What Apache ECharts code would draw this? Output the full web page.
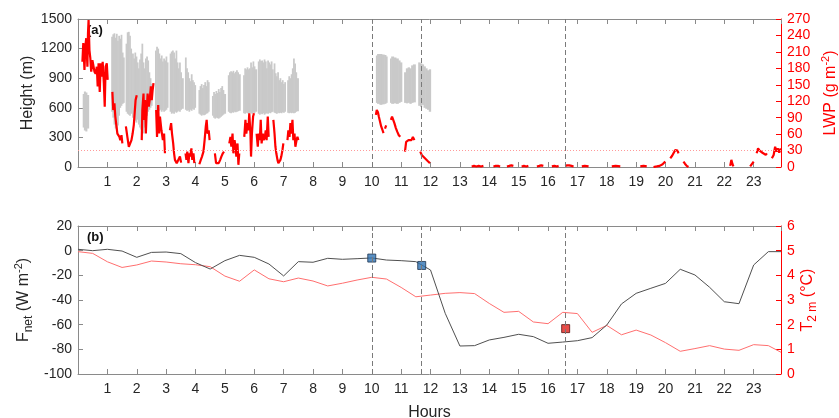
<!DOCTYPE html>
<html>
<head>
<meta charset="utf-8">
<script src="https://cdn.jsdelivr.net/npm/echarts@6/dist/echarts.min.js"></script>
<style>
  html, body { margin: 0; padding: 0; background: #fff; }
  #chart { width: 839px; height: 418px; }
</style>
</head>
<body>
<div id="chart"></div>
<script>
// ---- Panel (a): cloud layers (ceilometer) and liquid water path ----
// Each cloud slice: [start hour, end hour, base height (m), top height (m)]
const cloudSlices = [
  [0.16,0.20,400,740],[0.20,0.25,370,765],[0.25,0.30,360,755],[0.30,0.36,390,730],
  [1.13,1.17,560,1320],[1.17,1.21,500,1345],[1.21,1.25,430,1355],[1.25,1.29,390,1310],[1.29,1.33,380,1350],
  [1.33,1.37,420,1280],[1.37,1.41,520,1330],[1.41,1.45,600,1300],[1.45,1.49,620,1340],[1.49,1.53,640,1160],[1.53,1.57,650,1110],
  [1.62,1.66,560,1250],[1.66,1.70,540,1365],[1.70,1.74,530,1370],[1.74,1.78,520,1330],[1.78,1.82,540,1200],
  [1.84,1.88,500,1150],[1.88,1.92,520,1100],[1.92,1.96,470,1160],[1.96,2.00,450,1120],[2.00,2.04,480,1060],
  [2.04,2.08,430,1000],[2.08,2.12,400,1090],[2.12,2.16,380,1150],[2.16,2.20,360,1250],[2.20,2.24,340,1060],
  [2.24,2.28,400,1000],[2.28,2.32,460,1100],[2.32,2.36,520,1120],[2.36,2.40,560,1080],[2.40,2.44,580,960],
  [2.44,2.48,600,900],[2.48,2.52,620,840],
  [2.62,2.66,580,1180],[2.66,2.70,570,1220],[2.70,2.74,560,1200],[2.74,2.78,570,1150],[2.78,2.82,580,1100],
  [2.82,2.86,560,1130],[2.86,2.90,575,1070],[2.90,2.94,560,1100],[2.94,2.98,570,1080],[2.98,3.02,580,1120],[3.02,3.06,600,1060],
  [3.12,3.16,560,1150],[3.16,3.20,540,1170],[3.20,3.24,550,1180],[3.24,3.28,540,1160],[3.28,3.32,560,1100],
  [3.32,3.36,550,1180],[3.36,3.40,560,1060],[3.40,3.44,570,1000],[3.44,3.48,560,1060],[3.48,3.52,580,960],[3.52,3.58,590,900],
  [3.64,3.68,580,1110],[3.68,3.72,570,1000],[3.72,3.76,575,960],[3.76,3.80,560,900],[3.80,3.84,580,870],
  [3.84,3.88,570,940],[3.88,3.92,590,880],[3.92,3.96,580,860],[3.96,4.00,600,830],
  [4.10,4.14,540,780],[4.14,4.18,530,820],[4.18,4.22,520,840],[4.22,4.26,530,800],[4.26,4.30,525,830],
  [4.30,4.34,530,860],[4.34,4.38,540,820],[4.38,4.42,545,880],[4.42,4.46,560,860],
  [4.56,4.60,520,720],[4.60,4.64,500,760],[4.64,4.68,490,740],[4.68,4.72,500,770],[4.72,4.76,495,750],
  [4.76,4.80,490,790],[4.80,4.84,500,760],[4.84,4.88,510,800],[4.88,4.92,520,820],[4.92,4.96,530,780],[4.96,5.02,540,740],
  [5.10,5.14,560,930],[5.14,5.18,550,960],[5.18,5.22,545,970],[5.22,5.26,555,960],[5.26,5.30,550,975],
  [5.30,5.34,560,950],[5.34,5.38,555,965],[5.38,5.42,560,980],[5.42,5.46,565,960],[5.46,5.52,570,940],
  [5.62,5.66,545,930],[5.66,5.70,540,1000],[5.70,5.74,550,990],[5.74,5.78,545,1010],[5.78,5.82,540,990],
  [5.82,5.86,550,1000],[5.86,5.90,545,1060],[5.90,5.94,540,1010],[5.94,5.98,550,1070],[5.98,6.02,545,1020],[6.02,6.08,560,990],
  [6.12,6.16,540,1070],[6.16,6.20,530,1090],[6.20,6.24,540,1075],[6.24,6.28,535,1080],[6.28,6.32,545,1060],
  [6.32,6.36,530,1090],[6.36,6.40,540,1070],[6.40,6.44,545,1000],[6.44,6.48,540,1080],[6.48,6.52,550,1060],
  [6.52,6.56,545,1040],[6.56,6.60,555,1070],[6.60,6.64,560,990],
  [6.66,6.70,550,1050],[6.70,6.74,545,950],[6.74,6.78,540,920],[6.78,6.82,550,960],[6.82,6.86,545,880],
  [6.86,6.90,550,900],[6.90,6.94,545,860],[6.94,6.98,555,880],[6.98,7.02,550,840],[7.02,7.06,560,860],
  [7.12,7.16,550,880],[7.16,7.20,545,920],[7.20,7.24,550,900],[7.24,7.28,545,940],[7.28,7.32,550,1000],
  [7.32,7.36,545,1100],[7.36,7.40,550,1050],[7.40,7.44,560,960],[7.44,7.50,565,900],
  [10.14,10.18,650,1130],[10.18,10.26,640,1145],[10.26,10.34,630,1145],[10.34,10.42,635,1140],[10.42,10.48,640,1135],[10.48,10.52,650,1120],
  [10.62,10.66,650,1100],[10.66,10.74,640,1120],[10.74,10.82,645,1110],[10.82,10.90,640,1100],[10.90,10.96,650,1080],[10.96,11.02,660,1060],
  [11.10,11.16,650,960],[11.16,11.22,645,1000],[11.22,11.28,650,1010],[11.28,11.34,640,1000],[11.34,11.40,650,1030],[11.40,11.48,655,1040],
  [11.58,11.64,620,1060],[11.64,11.70,610,1050],[11.70,11.76,630,1040],[11.76,11.82,600,1020],[11.82,11.88,590,1000],
  [11.88,11.94,580,980],[11.94,12.00,560,990]
];

// Liquid water path (g m^-2), stored as continuous segments
const lwpHours = [
  [0.15,0.18,0.22,0.25,0.28,0.32,0.34,0.36,0.39,0.42,0.45,0.49,0.52,0.56,0.60,0.64,0.67,0.70,0.74,0.77,0.81,0.84,0.88,0.91,0.94,0.98,1.01],
  [1.17,1.20,1.24,1.27,1.31,1.34,1.37,1.41,1.44,1.48,1.51],
  [1.63,1.68,1.73,1.77,1.82,1.86,1.90,1.93,1.96,2.00],
  [2.17,2.19,2.23,2.25,2.28,2.31,2.34,2.37,2.41,2.44,2.48,2.51,2.54,2.57],
  [2.66,2.69,2.73,2.76,2.79,2.84,2.89,2.93,2.96],
  [3.13,3.17,3.20,3.24,3.27,3.30,3.36,3.42,3.47,3.51],
  [3.66,3.69,3.72,3.76,3.79,3.82,3.86,3.89,3.93,3.96],
  [4.13,4.18,4.22,4.27,4.31,4.35,4.38,4.41,4.45,4.48],
  [4.66,4.70,4.75,4.79,4.84,4.88,4.93,4.97],
  [5.15,5.19,5.22,5.26,5.29,5.33,5.36,5.39,5.43,5.46,5.49],
  [5.66,5.70,5.73,5.77,5.80,5.83,5.87,5.89,5.92,5.96,5.99],
  [6.08,6.12,6.15,6.19,6.22,6.25,6.29,6.32,6.36,6.39,6.42,6.46,6.49],
  [6.65,6.69,6.72,6.75,6.79,6.82,6.86,6.89,6.92,6.96,6.99],
  [7.13,7.16,7.20,7.23,7.26,7.30,7.33,7.37,7.40,7.44,7.47,7.50],
  [10.14,10.17,10.21,10.24,10.28,10.32,10.36,10.40],
  [10.45,10.49],
  [10.65,10.69,10.73,10.77,10.82,10.87,10.92,10.97],
  [11.13,11.17,11.21,11.25,11.30,11.35,11.40,11.45],
  [11.65,11.70,11.76,11.81,11.87,11.92,11.98],
  [13.40,13.48,13.56,13.64,13.72,13.80],
  [14.14,14.22,14.30,14.37],
  [14.60,14.68,14.75,14.82],
  [15.10,15.18,15.26,15.33],
  [15.62,15.70,15.77,15.84],
  [16.13,16.22,16.30,16.36],
  [16.58,16.65,16.72,16.80,16.87],
  [17.15,17.25,17.38],
  [18.17,18.30,18.46],
  [19.14,19.25,19.36],
  [19.59,19.70,19.80,19.90,19.99],
  [20.16,20.22,20.28,20.33,20.37,20.41,20.44],
  [20.61,20.66,20.72,20.78],
  [22.20,22.24,22.28,22.31],
  [22.88,22.94,23.00],
  [23.10,23.15,23.20,23.25,23.30,23.36,23.41,23.45],
  [23.62,23.68,23.73,23.78,23.82,23.87,23.92]
];
const lwpValues = [
  [192,226,177,220,235,183,244,268,213,198,174,195,186,174,170,183,147,189,137,189,165,192,153,110,183,189,159],
  [137,104,116,92,74,61,64,55,49,58,43],
  [74,55,37,34,49,61,77,74,122,131],
  [49,104,134,86,122,61,104,134,110,122,147,122,140,153],
  [104,55,113,61,92,67,49,61,25],
  [67,80,61,43,25,13,7,10,19,8],
  [25,13,28,7,25,19,34,13,25,7],
  [5,13,19,28,49,74,86,61,67,49],
  [25,7,10,7,13,19,25,28],
  [43,55,37,61,25,49,37,19,43,4,25],
  [55,86,61,80,67,98,61,19,61,92,98],
  [61,37,61,49,86,43,61,49,55,67,49,92,55],
  [86,61,37,25,13,7,4,13,19,31,43],
  [49,67,55,80,61,86,49,61,37,49,55,49],
  [95,104,100,92,83,74,68,62],
  [70,76],
  [86,92,86,80,71,64,58,55],
  [28,46,43,49,52,49,55,49],
  [28,22,19,16,13,10,7],
  [1,2,1,2,1,2],
  [1,2,2,1],
  [1,2,3,2],
  [1,2,1,2],
  [1,2,3,2],
  [1,2,1,2],
  [2,3,3,2,1],
  [1,2,1],
  [1,2,1],
  [1,2,1],
  [0,1,2,5,10],
  [16,20,26,31,28,30,25],
  [10,6,2,0],
  [2,13,5,1],
  [1,3,10],
  [25,34,30,31,26,29,22,25],
  [16,22,37,28,34,26,34]
];
const lwpThreshold = 30;

// ---- Panel (b): net longwave flux and 2 m air temperature ----
const fluxHours = [0,0.5,1,1.5,2,2.5,3,3.5,4,4.5,5,5.5,6,6.5,7,7.5,8,8.5,9,9.5,10,10.5,11,11.5,
  12,12.5,13,13.5,14,14.5,15,15.5,16,16.5,17,17.5,18,18.5,19,19.5,20,20.5,21,21.5,22,22.5,23,23.5,23.93];
const netFlux = [1.1,0,1.1,-0.3,-5.4,-1.4,-1.1,-2.4,-9.7,-14.9,-8.1,-3.8,-5.4,-10.8,-20.5,-8.9,-9.4,-6.2,-7.0,-6.5,
  -5.9,-7.6,-8.1,-8.9,-15.7,-50.8,-77.3,-77,-72.4,-70.3,-67.8,-69.7,-75.1,-74.1,-73,-70.5,-60.3,-43.2,-34.6,-30.5,
  -26.5,-15.1,-19.7,-29.7,-41.4,-43,-11.6,-0.8,-0.8];
const airTemp = [4.96,4.89,4.55,4.32,4.42,4.58,4.54,4.47,4.43,4.35,3.97,3.76,4.22,3.86,3.74,3.89,3.77,3.57,3.68,3.81,
  3.92,3.85,3.51,3.13,3.2,3.27,3.30,3.26,2.86,2.5,2.54,2.11,2.04,2.5,2.45,1.69,1.97,1.59,1.78,1.58,
  1.27,0.92,1.03,1.15,1.01,0.96,1.19,1.15,0.88];

// Highlighted times (dashed lines) and markers
const eventHours = [10.0, 11.7, 16.6];
const fluxMarkHours = [10.0, 11.7];
const fluxMarkValues = [-6, -12];
const tempMarkHours = [16.6];
const tempMarkValues = [1.84];

// Axis ranges: [min, max, step]
const hourRange = [0, 23.93];
const heightRange = [0, 1500, 300];
const lwpRange = [0, 270, 30];
const fluxRange = [-100, 20, 20];
const tempRange = [0, 6, 1];

// ---------------------------------------------------------------
const FONT = 'Liberation Sans, Arial, Helvetica, sans-serif';
const AXIS_GRAY = '#8a8a8a';
const TEXT_DARK = '#262626';
const RED = '#ff0000';

const lwpData = [];
lwpHours.forEach((seg, i) => {
  seg.forEach((h, j) => lwpData.push([h, lwpValues[i][j]]));
  if (i < lwpHours.length - 1) lwpData.push([seg[seg.length - 1] + 0.01, null]);
});
const fluxData = fluxHours.map((h, i) => [h, netFlux[i]]);
const tempData = fluxHours.map((h, i) => [h, airTemp[i]]);

const hourLabel = v => (Math.abs(v - Math.round(v)) < 1e-6 && v >= 1 && v <= 23) ? String(Math.round(v)) : '';

function xAxisPair(gridIndex) {
  const base = {
    type: 'value', gridIndex, min: hourRange[0], max: hourRange[1], interval: 1,
    splitLine: { show: false },
    axisLine: { show: true, onZero: false, lineStyle: { color: AXIS_GRAY, width: 1 } },
    axisTick: { show: true, inside: true, length: 5, lineStyle: { color: AXIS_GRAY } }
  };
  return [
    Object.assign({}, base, {
      position: 'bottom',
      axisLabel: { show: true, formatter: hourLabel, color: TEXT_DARK, fontSize: 14, fontFamily: FONT, margin: 8,
                   showMinLabel: false, showMaxLabel: false }
    }),
    Object.assign({}, base, { position: 'top', axisLabel: { show: false } })
  ];
}

const xAxes = [...xAxisPair(0), ...xAxisPair(1)];
xAxes[2].name = 'Hours';
xAxes[2].nameLocation = 'middle';
xAxes[2].nameGap = 31;
xAxes[2].nameMoveOverlap = false;
xAxes[2].nameTextStyle = { color: TEXT_DARK, fontSize: 16, fontFamily: FONT };

function yAxis(gridIndex, range, side, color, labelColor, name, nameGap, rich) {
  return {
    type: 'value', gridIndex, position: side, min: range[0], max: range[1], interval: range[2],
    splitLine: { show: false },
    axisLine: { show: true, onZero: false, lineStyle: { color, width: 1 } },
    axisTick: { show: true, inside: true, length: 5, lineStyle: { color } },
    axisLabel: { color: labelColor, fontSize: 14, fontFamily: FONT, margin: 6, formatter: v => String(v) },
    name, nameLocation: 'middle', nameRotate: 90, nameGap, nameMoveOverlap: false,
    nameTextStyle: { color: labelColor, fontSize: 16, fontFamily: FONT, rich }
  };
}

function richStyles(color) {
  return {
    n: { fontSize: 16, lineHeight: 22, color, fontFamily: FONT, verticalAlign: 'middle' },
    sub: { fontSize: 12, lineHeight: 12, color, fontFamily: FONT, verticalAlign: 'bottom' },
    sup: { fontSize: 11, lineHeight: 11, color, fontFamily: FONT, verticalAlign: 'top' }
  };
}

const yAxes = [
  yAxis(0, heightRange, 'left', AXIS_GRAY, TEXT_DARK, '{n|Height (m)}', 39, richStyles(TEXT_DARK)),
  yAxis(0, lwpRange, 'right', RED, RED, '{n|LWP (g m}{sup|-2}{n|)}', 39, richStyles(RED)),
  yAxis(1, fluxRange, 'left', AXIS_GRAY, TEXT_DARK, '{n|F}{sub|net}{n| (W m}{sup|-2}{n|)}', 43, richStyles(TEXT_DARK)),
  yAxis(1, tempRange, 'right', RED, RED, '{n|T}{sub|2 m}{n| (°C)}', 16, richStyles(RED))
];

const dashedEvents = () => ({
  silent: true, symbol: ['none', 'none'], label: { show: false },
  lineStyle: { color: '#7a7a7a', type: [5, 3], width: 1 },
  data: eventHours.map(h => ({ xAxis: h }))
});

const option = {
  animation: false,
  backgroundColor: '#ffffff',
  textStyle: { fontFamily: FONT },
  grid: [
    { left: 78, top: 19, width: 703, height: 148, containLabel: false, outerBoundsMode: 'none' },
    { left: 78, top: 226, width: 703, height: 148, containLabel: false, outerBoundsMode: 'none' }
  ],
  xAxis: xAxes,
  yAxis: yAxes,
  graphic: [
    { type: 'text', left: 87, top: 24, style: { text: '(a)', font: 'bold 13px ' + FONT, fill: '#111' } },
    { type: 'text', left: 87, top: 231, style: { text: '(b)', font: 'bold 13px ' + FONT, fill: '#111' } }
  ],
  series: [
    {
      name: 'cloud', type: 'custom', xAxisIndex: 0, yAxisIndex: 0,
      data: cloudSlices,
      encode: { x: [0, 1], y: [2, 3] },
      renderItem: (params, api) => {
        const p0 = api.coord([api.value(0), api.value(3)]);
        const p1 = api.coord([api.value(1), api.value(2)]);
        return {
          type: 'rect',
          shape: { x: p0[0], y: p0[1], width: p1[0] - p0[0] + 0.6, height: p1[1] - p0[1] },
          style: { fill: '#c9c9c9' }
        };
      },
      z: 1,
      markLine: dashedEvents()
    },
    {
      name: 'LWP', type: 'line', xAxisIndex: 0, yAxisIndex: 1,
      data: lwpData, showSymbol: false, connectNulls: false,
      lineStyle: { color: RED, width: 2.2 }, z: 3,
      markLine: {
        silent: true, symbol: ['none', 'none'], label: { show: false },
        lineStyle: { color: '#ff9a9a', type: [1, 2], width: 1 },
        data: [{ yAxis: lwpThreshold }]
      }
    },
    {
      name: 'T2m', type: 'line', xAxisIndex: 2, yAxisIndex: 3,
      data: tempData, showSymbol: false,
      lineStyle: { color: '#ff6f6f', width: 1 }, z: 2
    },
    {
      name: 'Fnet', type: 'line', xAxisIndex: 2, yAxisIndex: 2,
      data: fluxData, showSymbol: false,
      lineStyle: { color: '#505050', width: 1 }, z: 2,
      markLine: dashedEvents()
    },
    {
      name: 'Fnet marks', type: 'scatter', xAxisIndex: 2, yAxisIndex: 2,
      data: fluxMarkHours.map((h, i) => [h, fluxMarkValues[i]]),
      symbol: 'rect', symbolSize: 8,
      itemStyle: { color: '#2f73b3', borderColor: '#1d3550', borderWidth: 1 }, z: 4
    },
    {
      name: 'T2m marks', type: 'scatter', xAxisIndex: 2, yAxisIndex: 3,
      data: tempMarkHours.map((h, i) => [h, tempMarkValues[i]]),
      symbol: 'rect', symbolSize: 8,
      itemStyle: { color: '#e3211c', borderColor: '#5a1412', borderWidth: 1 }, z: 4
    }
  ]
};

const chart = echarts.init(document.getElementById('chart'), null, { renderer: 'canvas' });
chart.setOption(option);
</script>
</body>
</html>
